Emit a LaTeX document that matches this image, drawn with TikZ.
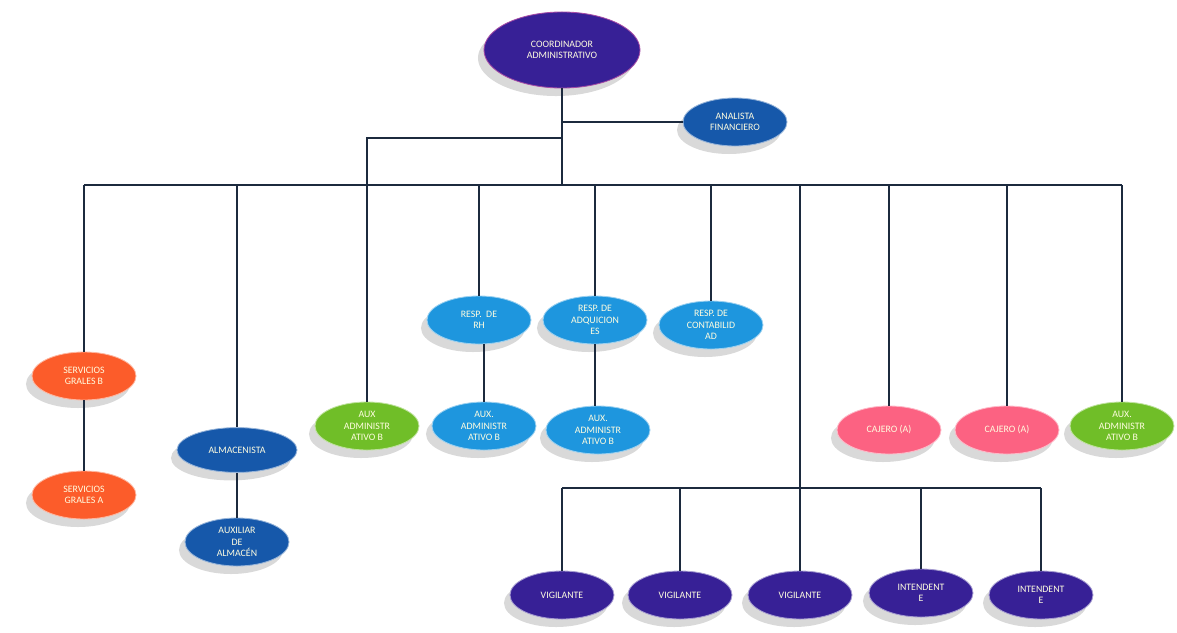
\documentclass[tikz,border=0pt]{standalone}
\usepackage{fontspec}
\setmainfont{Carlito}
\usetikzlibrary{shapes.geometric,shadows}

\definecolor{indigo}{RGB}{55,32,150}
\definecolor{azul}{RGB}{22,88,170}
\definecolor{celeste}{RGB}{30,150,222}
\definecolor{naranja}{RGB}{252,92,42}
\definecolor{verde}{RGB}{112,190,40}
\definecolor{rosa}{RGB}{252,98,130}
\definecolor{linea}{RGB}{28,42,62}

\begin{document}
\begin{tikzpicture}[x=0.025cm, y=-0.025cm,
	puesto/.style={ellipse, fill=#1, draw=white!55!#1, line width=0.6pt,
		text=white!88!yellow, inner sep=0pt, align=center,
		minimum width=2.6cm, minimum height=1.2cm,
		font=\fontsize{7}{8}\selectfont,
		drop shadow={shadow xshift=-0.15cm, shadow yshift=-0.2cm, opacity=0.3, fill=black!50}},
	conn/.style={draw=linea, line width=1.1pt}]
	\useasboundingbox (0,0) rectangle (1177,632);
	
	% nivel 1
	\node[puesto=indigo, draw=violet!70!white, minimum width=3.9cm, minimum height=1.9cm](coord) at (562,50){COORDINADOR\\ADMINISTRATIVO};
	\node[puesto=azul](anal) at (735,122){ANALISTA\\FINANCIERO};
	
	% nivel 2
	\node[puesto=naranja](servB) at (84,376){SERVICIOS\\GRALES B};
	\node[puesto=azul, minimum width=3cm, minimum height=1.12cm](almac) at (237,450){ALMACENISTA};
	\node[puesto=verde](auxA) at (367,426){AUX\\ADMINISTR\\ATIVO B};
	\node[puesto=celeste](rh) at (479,320){RESP. \ DE\\RH};
	\node[puesto=celeste](adq) at (595,320){RESP. DE\\ADQUICION\\ES};
	\node[puesto=celeste](cont) at (711,325){RESP. DE\\CONTABILID\\AD};
	\node[puesto=rosa](caj1) at (889,430){CAJERO (A)};
	\node[puesto=rosa](caj2) at (1007,430){CAJERO (A)};
	\node[puesto=verde](auxB) at (1122,426){AUX.\\ADMINISTR\\ATIVO B};
	
	% nivel 3
	\node[puesto=naranja](servA) at (84,495){SERVICIOS\\GRALES A};
	\node[puesto=azul](auxalm) at (237,542){AUXILIAR\\DE\\ALMAC\'EN};
	\node[puesto=celeste](auxrh) at (484,426){AUX.\\ADMINISTR\\ATIVO B};
	\node[puesto=celeste](auxadq) at (598,430){AUX.\\ADMINISTR\\ATIVO B};
	
	% vigilancia
	\node[puesto=indigo](vig1) at (562,595){VIGILANTE};
	\node[puesto=indigo](vig2) at (680,595){VIGILANTE};
	\node[puesto=indigo](vig3) at (800,595){VIGILANTE};
	\node[puesto=indigo](int1) at (921,593){INTENDENT\\E};
	\node[puesto=indigo](int2) at (1041,595){INTENDENT\\E};
	
	\coordinate (bus) at (562,185);
	\coordinate (ramaA) at (562,138);
	\coordinate (vbus) at (800,488);
	
	% conectores
	\draw[conn] (coord) -- (bus);
	\draw[conn] (coord |- anal) -- (anal);
	\draw[conn] (ramaA) -- (ramaA -| auxA) -- (auxA);
	\draw[conn] (servB |- bus) -- (auxB |- bus);
	\foreach \n in {servB, almac, rh, adq, cont, caj1, caj2, auxB}
		\draw[conn] (\n |- bus) -- (\n);
	\draw[conn] (servB) -- (servA);
	\draw[conn] (almac) -- (auxalm);
	\draw[conn] (auxrh |- rh.south) -- (auxrh);
	\draw[conn] (adq.south) -- (adq.south |- auxadq.north);
	\draw[conn] (vig3 |- bus) -- (vbus);
	\draw[conn] (vig1 |- vbus) -- (int2 |- vbus);
	\foreach \n in {vig1, vig2, vig3, int1, int2}
		\draw[conn] (\n |- vbus) -- (\n);
\end{tikzpicture}
\end{document}
